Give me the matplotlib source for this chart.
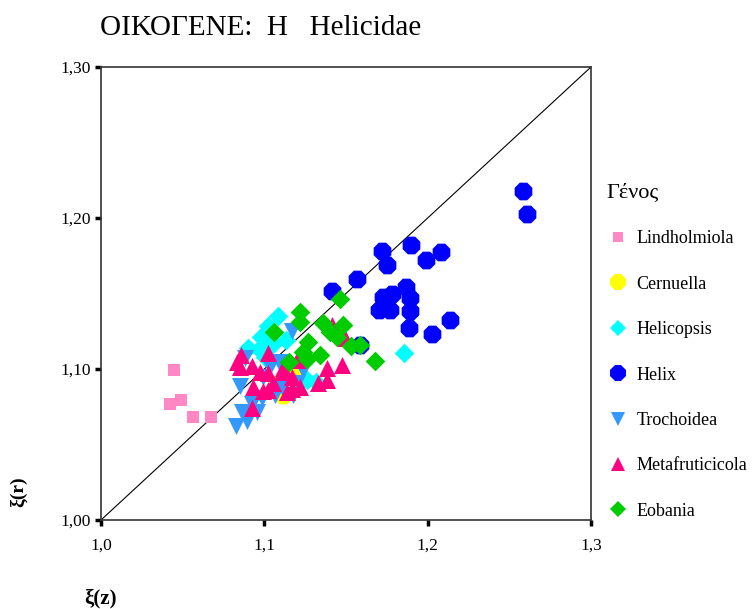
import matplotlib
matplotlib.use("Agg")
import matplotlib.pyplot as plt
from matplotlib.lines import Line2D

plt.rcParams['font.family'] = ['Liberation Serif', 'DejaVu Serif']

# genus order as listed in the legend (also the drawing order)
genera = ['Lindholmiola', 'Cernuella', 'Helicopsis', 'Helix',
          'Trochoidea', 'Metafruticicola', 'Eobania']

lindholmiola_z = [1.0447, 1.0423, 1.0490, 1.0563, 1.0674]
lindholmiola_r = [1.0993, 1.0768, 1.0795, 1.0682, 1.0682]

cernuella_z = [1.1115, 1.1182, 1.1084]
cernuella_r = [1.0828, 1.0960, 1.0901]

helicopsis_z = [1.1084, 1.1023, 1.0980, 1.0900, 1.0968, 1.1053, 1.1133,
                1.1261, 1.1317, 1.1855, 1.1004]
helicopsis_r = [1.1351, 1.1285, 1.1212, 1.1139, 1.1132, 1.1166, 1.1192,
                1.0927, 1.0914, 1.1106, 1.1079]

helix_z = [1.2584, 1.2609, 1.1721, 1.1898, 1.1751, 1.1990, 1.2082, 1.1568,
           1.1727, 1.1782, 1.1868, 1.1892, 1.1702, 1.1770, 1.1892, 1.1886,
           1.2027, 1.2137, 1.1415, 1.1586]
helix_r = [1.2179, 1.2026, 1.1781, 1.1821, 1.1689, 1.1722, 1.1775, 1.1596,
           1.1477, 1.1497, 1.1543, 1.1470, 1.1391, 1.1391, 1.1384, 1.1272,
           1.1232, 1.1325, 1.1517, 1.1159]

trochoidea_z = [1.0827, 1.0863, 1.0906, 1.0894, 1.0955, 1.0925, 1.0986,
                1.0851, 1.0882, 1.0992, 1.1035, 1.1090, 1.1170, 1.1237,
                1.1108, 1.1176, 1.1200, 1.1066]
trochoidea_r = [1.0623, 1.0715, 1.0702, 1.0656, 1.0715, 1.0768, 1.0808,
                1.0887, 1.1073, 1.0947, 1.1013, 1.1046, 1.1252, 1.0993,
                1.0881, 1.0828, 1.0907, 1.0828]

metafruticicola_z = [1.0833, 1.0857, 1.0925, 1.1023, 1.0851, 1.0974, 1.1023,
                     1.0931, 1.1053, 1.1139, 1.0992, 1.0925, 1.1115, 1.1023,
                     1.1108, 1.1170, 1.1200, 1.1219, 1.1329, 1.1384, 1.1384,
                     1.1476, 1.1415, 1.1494, 1.1170]
metafruticicola_r = [1.1046, 1.1093, 1.1020, 1.1106, 1.1013, 1.0980, 1.0974,
                     1.0881, 1.0907, 1.0848, 1.0854, 1.0742, 1.1007, 1.0861,
                     1.0980, 1.0947, 1.1060, 1.0881, 1.0907, 1.0927, 1.1007,
                     1.1026, 1.1291, 1.1205, 1.0868]

eobania_z = [1.1464, 1.1219, 1.1219, 1.1059, 1.1359, 1.1482, 1.1402, 1.1445,
             1.1268, 1.1531, 1.1586, 1.1237, 1.1341, 1.1151, 1.1261, 1.1678]
eobania_r = [1.1464, 1.1377, 1.1311, 1.1245, 1.1305, 1.1291, 1.1245, 1.1212,
             1.1179, 1.1152, 1.1159, 1.1113, 1.1093, 1.1046, 1.1066, 1.1053]

x_ticks = [1.0, 1.1, 1.2, 1.3]
x_tick_labels = ['1,0', '1,1', '1,2', '1,3']
y_ticks = [1.00, 1.10, 1.20, 1.30]
y_tick_labels = ['1,00', '1,10', '1,20', '1,30']

series = {
    'Lindholmiola': (lindholmiola_z, lindholmiola_r),
    'Cernuella': (cernuella_z, cernuella_r),
    'Helicopsis': (helicopsis_z, helicopsis_r),
    'Helix': (helix_z, helix_r),
    'Trochoidea': (trochoidea_z, trochoidea_r),
    'Metafruticicola': (metafruticicola_z, metafruticicola_r),
    'Eobania': (eobania_z, eobania_r),
}

# marker, colour, scatter size, legend size
styles = {
    'Lindholmiola': ('s', '#ff88c4', 85, 7.5),
    'Cernuella': ('8', '#ffff00', 190, 12),
    'Helicopsis': ('D', '#00ffff', 100, 8.5),
    'Helix': ('8', '#0000ff', 190, 12),
    'Trochoidea': ('v', '#3399ff', 150, 10.5),
    'Metafruticicola': ('^', '#ff0080', 150, 10.5),
    'Eobania': ('D', '#00cc00', 100, 8.5),
}

fig = plt.figure(figsize=(7.52, 6.09), dpi=100)
ax = fig.add_axes([0.1343, 0.1461, 0.6516, 0.7439])

# reference line r = z
ax.plot([1.0, 1.3], [1.0, 1.3], color='black', lw=0.8, zorder=1)

for i, name in enumerate(genera):
    zs, rs = series[name]
    marker, color, size, _ = styles[name]
    ax.scatter(zs, rs, marker=marker, s=size, c=color, linewidths=0,
               zorder=2 + i)

ax.set_xlim(1.0, 1.3)
ax.set_ylim(1.0, 1.3)
ax.set_xticks(x_ticks)
ax.set_xticklabels(x_tick_labels)
ax.set_yticks(y_ticks)
ax.set_yticklabels(y_tick_labels)
ax.tick_params(direction='out', length=4, width=2.5, labelsize=12.5)
ax.tick_params(axis='x', pad=9)
ax.tick_params(axis='y', pad=3)
for spine in ax.spines.values():
    spine.set_linewidth(1.2)
    spine.set_color('#333333')

fig.text(0.133, 0.942, 'ΟΙΚΟΓΕΝΕ:  Η   Helicidae', fontsize=21,
         ha='left', va='baseline')
fig.text(0.024, 0.192, 'ξ(r)', fontsize=14, fontweight='bold', rotation=90,
         ha='center', va='center')
fig.text(0.134, 0.018, 'ξ(z)', fontsize=15, fontweight='bold',
         ha='center', va='center')

handles = []
for name in genera:
    marker, color, _, lsize = styles[name]
    handles.append(Line2D([], [], linestyle='none', marker=marker,
                          markersize=lsize, markerfacecolor=color,
                          markeredgewidth=0, label=name))

leg = fig.legend(handles=handles, loc='upper left',
                 bbox_to_anchor=(0.785, 0.726), frameon=False,
                 title='Γένος', title_fontsize=16, fontsize=13,
                 labelspacing=1.57, handletextpad=0.35, handlelength=1.3,
                 alignment='left')

fig.savefig('out.png', dpi=100)
